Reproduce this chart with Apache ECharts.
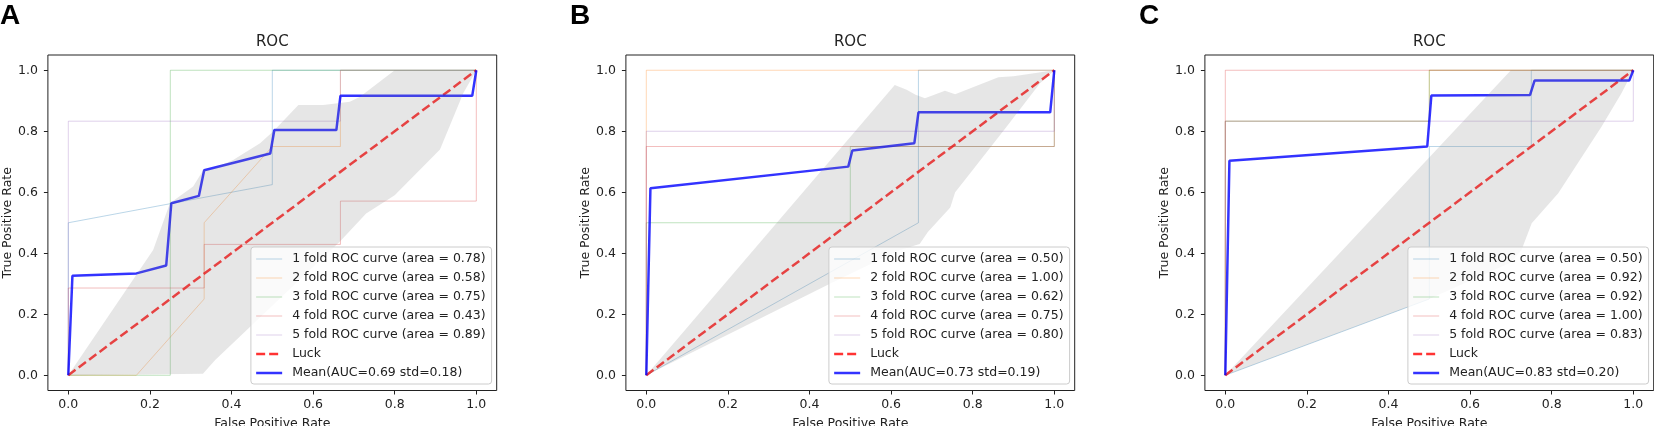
<!DOCTYPE html>
<html>
<head>
<meta charset="utf-8">
<title>ROC</title>
<script src="https://cdn.jsdelivr.net/npm/echarts@6/dist/echarts.min.js"></script>
<style>
  html, body { margin: 0; padding: 0; background: #fff; }
  #main { width: 1654px; height: 426px; }
</style>
</head>
<body>
<div id="main"></div>
<script>
// ---------- data ----------
var tickValues = [0, 0.2, 0.4, 0.6, 0.8, 1.0];
var panelLetters = ['A', 'B', 'C'];
var foldColors = ['rgba(31,119,180,0.3)', 'rgba(255,127,14,0.3)', 'rgba(44,160,44,0.3)',
  'rgba(214,39,40,0.3)', 'rgba(148,103,189,0.3)'];

var foldAreasA = ['0.78', '0.58', '0.75', '0.43', '0.89'];
var foldAreasB = ['0.50', '1.00', '0.62', '0.75', '0.80'];
var foldAreasC = ['0.50', '0.92', '0.92', '1.00', '0.83'];
var meanLabels = ['Mean(AUC=0.69 std=0.18)', 'Mean(AUC=0.73 std=0.19)', 'Mean(AUC=0.83 std=0.20)'];

var luckLine = [[0, 0], [1, 1]];

// panel A
var foldsA = [
  [[0, 0], [0, 0.5], [0.5, 0.625], [0.5, 1], [1, 1]],
  [[0, 0], [0.167, 0], [0.333, 0.25], [0.333, 0.5], [0.5, 0.75], [0.667, 0.75], [0.667, 1], [1, 1]],
  [[0, 0], [0.25, 0], [0.25, 1], [1, 1]],
  [[0, 0], [0, 0.286], [0.333, 0.286], [0.333, 0.429], [0.667, 0.429], [0.667, 0.571], [1, 0.571], [1, 1]],
  [[0, 0], [0, 0.833], [0.667, 0.833], [0.667, 1], [1, 1]]
];
var meanA = [[0, 0], [0.0101, 0.326], [0.167, 0.334], [0.24, 0.36], [0.2525, 0.564], [0.32, 0.588],
  [0.333, 0.672], [0.495, 0.727], [0.505, 0.804], [0.657, 0.804], [0.667, 0.916], [0.99, 0.916], [1, 1]];
var upperA = [[0, 0], [0.208, 0.411], [0.249, 0.564], [0.306, 0.619], [0.331, 0.673], [0.35, 0.675],
  [0.404, 0.706], [0.47, 0.761], [0.502, 0.799], [0.564, 0.886], [0.625, 0.886], [0.69, 0.897],
  [0.715, 0.913], [0.8, 1], [1, 1]];
var lowerA = [[0, 0], [0.33, 0.005], [0.36, 0.05], [0.667, 0.44], [0.73, 0.53], [0.8, 0.59],
  [0.911, 0.74], [0.968, 0.925], [1, 1]];

// panel B
var foldsB = [
  [[0, 0], [0.667, 0.5], [0.667, 1], [1, 1]],
  [[0, 0], [0, 1], [1, 1]],
  [[0, 0], [0, 0.5], [0.5, 0.5], [0.5, 0.75], [1, 0.75], [1, 1]],
  [[0, 0], [0, 0.75], [1, 0.75], [1, 1]],
  [[0, 0], [0, 0.8], [1, 0.8], [1, 1]]
];
var meanB = [[0, 0], [0.0101, 0.613], [0.495, 0.684], [0.505, 0.737], [0.657, 0.761], [0.667, 0.862],
  [0.99, 0.862], [1, 1]];
var upperB = [[0, 0], [0.609, 0.952], [0.638, 0.936], [0.66, 0.92], [0.683, 0.908], [0.732, 0.933],
  [0.757, 0.921], [0.863, 0.977], [0.9, 0.98], [1, 1]];
var lowerB = [[0, 0], [0.45, 0.3], [0.62, 0.41], [0.67, 0.43], [0.69, 0.47], [0.745, 0.55],
  [0.757, 0.6], [0.8, 0.673], [0.883, 0.815], [0.965, 0.957], [1, 1]];

// panel C
var foldsC = [
  [[0, 0], [0.5, 0.25], [0.5, 0.75], [0.75, 0.75], [0.75, 1], [1, 1]],
  [[0, 0], [0, 0.833], [0.5, 0.833], [0.5, 1], [1, 1]],
  [[0, 0], [0, 0.833], [0.5, 0.833], [0.5, 1], [1, 1]],
  [[0, 0], [0, 1], [1, 1]],
  [[0, 0], [0, 0.833], [1, 0.833], [1, 1]]
];
var meanC = [[0, 0], [0.0101, 0.703], [0.495, 0.75], [0.505, 0.917], [0.747, 0.919], [0.758, 0.966],
  [0.99, 0.966], [1, 1]];
var upperC = [[0, 0], [0.7, 1], [1, 1]];
var lowerC = [[0, 0], [0.5, 0.25], [0.7, 0.37], [0.726, 0.411], [0.751, 0.498], [0.816, 0.597],
  [0.922, 0.815], [0.971, 0.925], [1, 1]];

// ---------- layout ----------
var font = 'DejaVu Sans';
var fs = 12.5;
var gridLeft = [47.9, 625.9, 1204.9];
var gridTop = 55;
var gridW = 448.8;
var gridH = 335.5;
var letterX = [0, 570, 1139];

var panels = [
  {folds: foldsA, areas: foldAreasA, mean: meanA, upper: upperA, lower: lowerA},
  {folds: foldsB, areas: foldAreasB, mean: meanB, upper: upperB, lower: lowerB},
  {folds: foldsC, areas: foldAreasC, mean: meanC, upper: upperC, lower: lowerC}
];

var grids = [], xAxes = [], yAxes = [], series = [], legends = [], graphics = [];

// grey std band, like fill_between: upper edge then lower edge backwards
function bandRenderer(upper, lower) {
  return function (params, api) {
    var pts = upper.concat(lower.slice().reverse()).map(function (p) {
      return api.coord(p);
    });
    return {type: 'polygon', shape: {points: pts}, style: {fill: 'rgba(128,128,128,0.2)'}};
  };
}

function tickFmt(v) {
  return v.toFixed(1);
}

panels.forEach(function (p, i) {
  grids.push({
    left: gridLeft[i], top: gridTop, width: gridW, height: gridH,
    containLabel: false, outerBoundsMode: 'none',
    show: true, borderColor: '#222', borderWidth: 1, backgroundColor: 'transparent'
  });
  var axisCommon = {
    type: 'value', gridIndex: i, min: -0.05, max: 1.05,
    splitLine: {show: false},
    axisLine: {show: false, onZero: false},
    axisTick: {show: true, inside: false, length: 4, lineStyle: {color: '#222'}, customValues: tickValues},
    nameTextStyle: {fontFamily: font, fontSize: fs, color: '#222'}
  };
  xAxes.push(Object.assign({}, axisCommon, {
    name: 'False Positive Rate', nameLocation: 'middle', nameGap: 27,
    axisLabel: {customValues: tickValues, margin: 8, fontFamily: font, fontSize: fs, color: '#222', formatter: tickFmt}
  }));
  yAxes.push(Object.assign({}, axisCommon, {
    name: 'True Positive Rate', nameLocation: 'middle', nameGap: 33,
    axisLabel: {customValues: tickValues, margin: 10, fontFamily: font, fontSize: fs, color: '#222', formatter: tickFmt}
  }));

  var names = [];
  p.folds.forEach(function (curve, k) {
    var nm = (k + 1) + ' fold ROC curve (area = ' + p.areas[k] + ')';
    names.push({name: nm, lineStyle: {width: 1}});
    series.push({
      name: nm, type: 'line', xAxisIndex: i, yAxisIndex: i, data: curve,
      symbol: 'none', z: 2, lineStyle: {color: foldColors[k], width: 1}, itemStyle: {color: foldColors[k]}
    });
  });
  names.push({name: 'Luck', lineStyle: {width: 2.5}});
  series.push({
    name: 'Luck', type: 'line', xAxisIndex: i, yAxisIndex: i, data: luckLine,
    symbol: 'none', z: 2,
    lineStyle: {color: 'rgba(255,0,0,0.8)', width: 2.5, type: [9, 4]}, itemStyle: {color: 'rgba(255,0,0,0.8)'}
  });
  names.push({name: meanLabels[i], lineStyle: {width: 2.5}});
  series.push({
    name: meanLabels[i], type: 'line', xAxisIndex: i, yAxisIndex: i, data: p.mean,
    symbol: 'none', z: 2,
    lineStyle: {color: 'rgba(0,0,255,0.8)', width: 2.5}, itemStyle: {color: 'rgba(0,0,255,0.8)'}
  });
  series.push({
    type: 'custom', xAxisIndex: i, yAxisIndex: i, data: [[0, 0]], silent: true, z: 3,
    renderItem: bandRenderer(p.upper, p.lower)
  });

  legends.push({
    orient: 'vertical', left: gridLeft[i] + 203, top: 247, z: 10,
    data: names, itemWidth: 26, itemHeight: 14, itemGap: 5,
    padding: [5, 6, 4, 4],
    itemStyle: {opacity: 0},
    backgroundColor: 'rgba(255,255,255,0.8)', borderColor: '#cccccc', borderWidth: 1, borderRadius: 3,
    selectedMode: false,
    textStyle: {fontFamily: font, fontSize: fs, color: '#222', lineHeight: 14, padding: [0, 0, 0, 5]}
  });

  graphics.push({
    type: 'text', x: gridLeft[i] + gridW / 2, y: 42.5,
    style: {text: 'ROC', font: '15px "DejaVu Sans"', fill: '#222', textAlign: 'center', textVerticalAlign: 'middle'}
  });
  graphics.push({
    type: 'text', x: letterX[i], y: 16,
    style: {text: panelLetters[i], font: 'bold 28px "Liberation Sans"', fill: '#000', textAlign: 'left', textVerticalAlign: 'middle'}
  });
});

var chart = echarts.init(document.getElementById('main'));
chart.setOption({
  animation: false,
  backgroundColor: '#fff',
  grid: grids,
  xAxis: xAxes,
  yAxis: yAxes,
  legend: legends,
  series: series,
  graphic: graphics
});
</script>
</body>
</html>
